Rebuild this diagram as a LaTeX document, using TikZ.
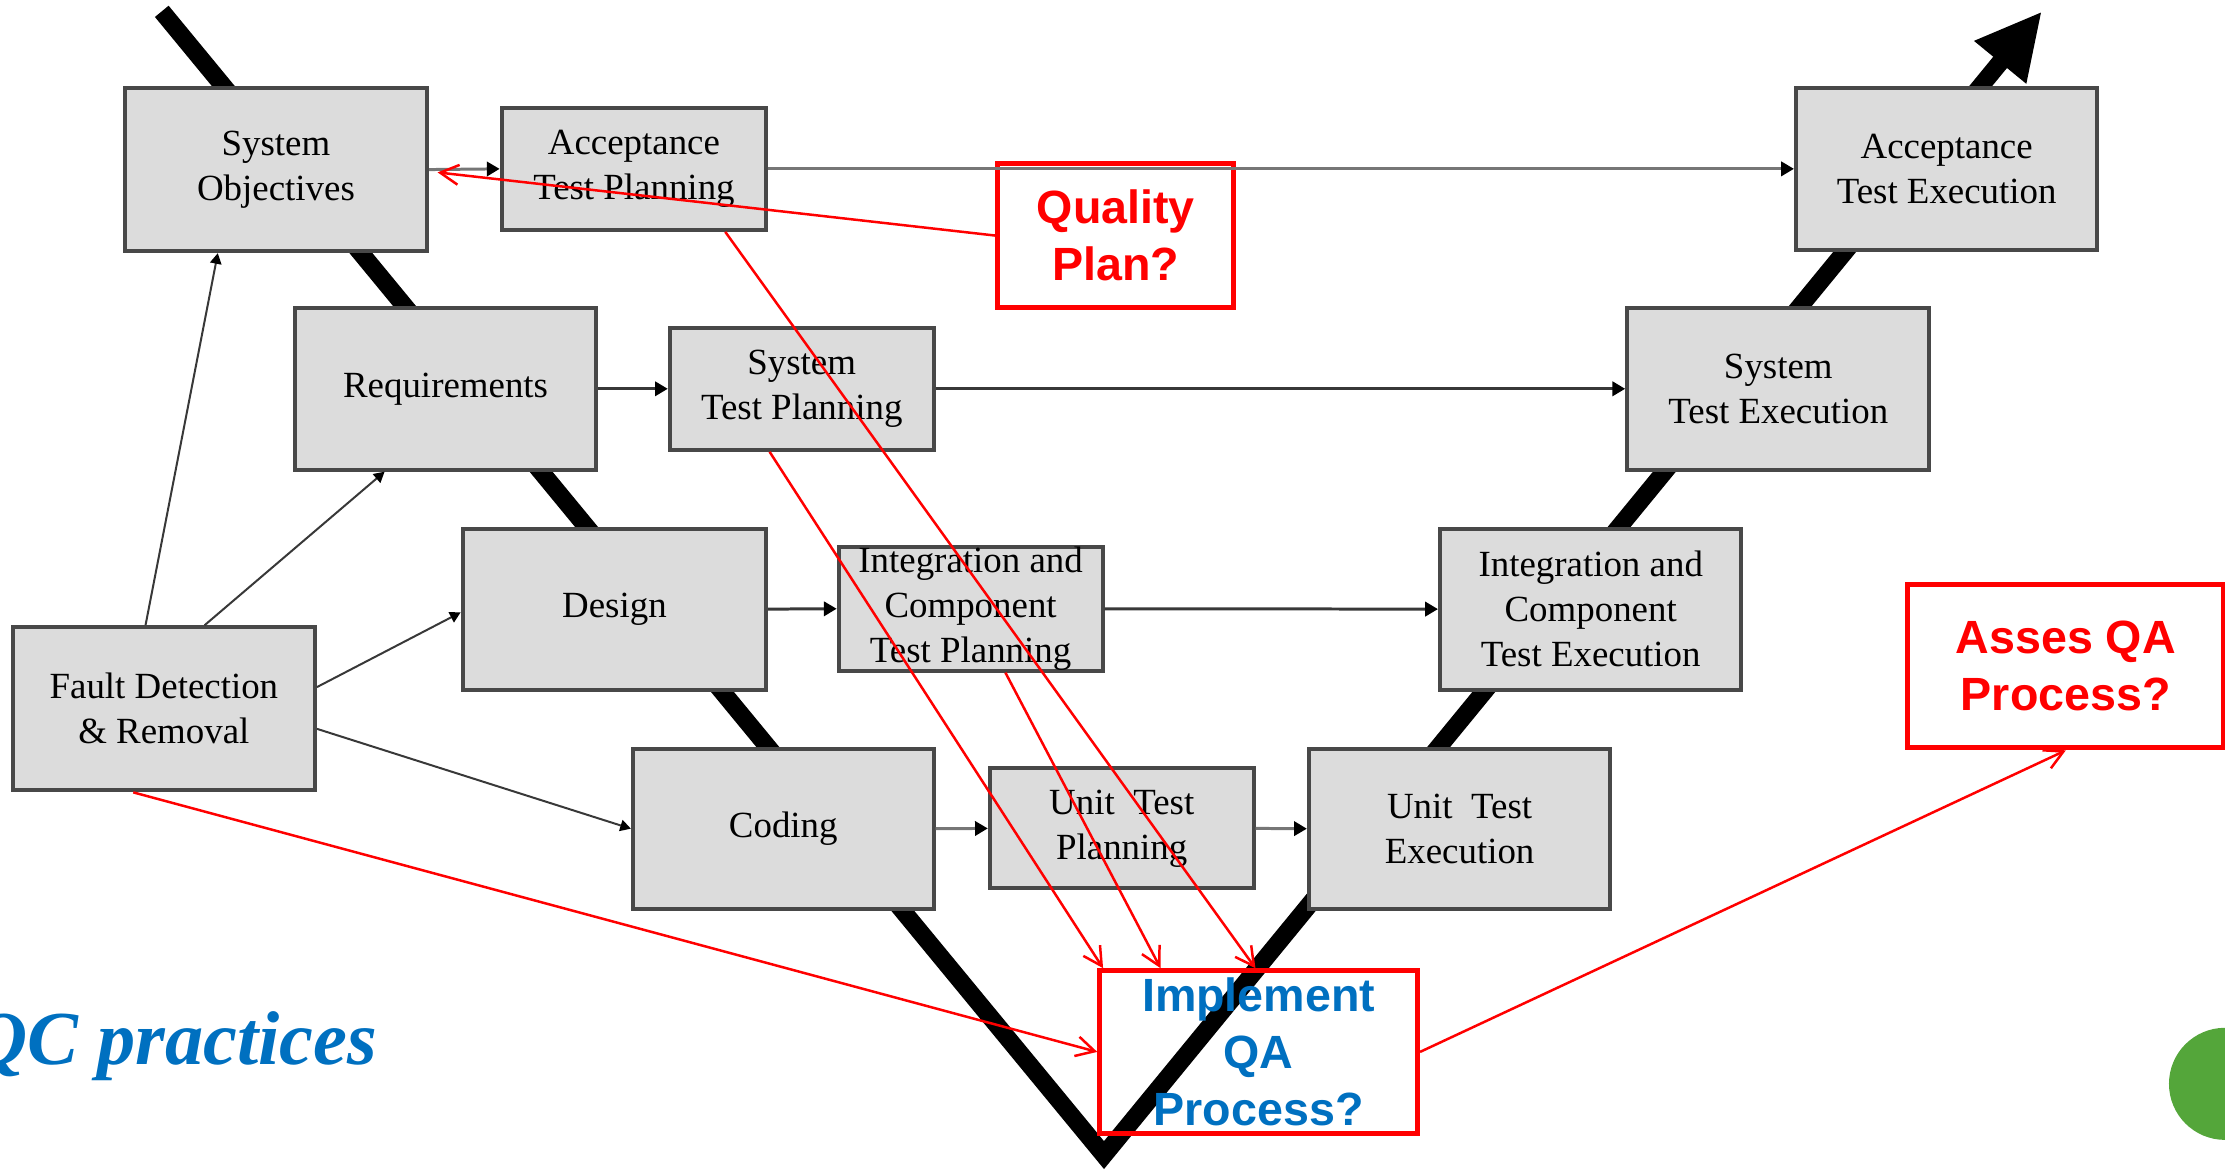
\documentclass[tikz,border=0pt]{standalone}
\usepackage{fontspec}
\setmainfont{Liberation Serif}
\newfontfamily\labelfont{Liberation Sans}
\usetikzlibrary{arrows.meta,calc}
\definecolor{boxfill}{RGB}{220,220,220}
\definecolor{boxline}{RGB}{72,72,72}
\definecolor{linkdark}{RGB}{56,56,56}
\definecolor{linkgray}{RGB}{118,118,118}
\definecolor{qred}{RGB}{255,0,0}
\definecolor{qblue}{RGB}{0,112,192}
\definecolor{dotgreen}{RGB}{84,166,58}

\begin{document}
\begin{tikzpicture}[x=0.02cm,y=-0.02cm,
  phase/.style={draw=boxline, line width=1.6pt, fill=boxfill, inner sep=0pt,
    align=center, font=\fontsize{14.8}{18.1}\selectfont},
  qbox/.style={draw=qred, line width=2pt, inner sep=0pt, align=center,
    font=\labelfont\bfseries\fontsize{18.7}{22.8}\selectfont},
  flow/.style={line width=1.2pt, -{Triangle[length=0.18cm,width=0.2cm,color=black]}},
  feed/.style={draw=linkdark, line width=0.8pt, -{Triangle[length=0.15cm,width=0.16cm,color=black]}},
  qa/.style={draw=qred, line width=1pt, -{Straight Barb[length=0.26cm,width=0.28cm]}},
  vee/.style={line width=0.25cm, line join=miter}
]
\useasboundingbox (0,0) rectangle (1568,827);
\clip (0,0) rectangle (1568,827);

% the V of the development life cycle, drawn under the phase boxes
\draw[vee, -{Triangle[length=0.93cm,width=0.88cm]}] (114,8) -- (778,814) -- (1439,8);

% phase boxes
\node[phase, minimum width=4.26cm, minimum height=2.30cm] (so) at (194.5,119.5) {System\\Objectives};
\node[phase, minimum width=3.73cm, minimum height=1.72cm] (atp) at (446.75,119) {Acceptance\\Test Planning};
\node[phase, minimum width=4.25cm, minimum height=2.28cm] (ate) at (1371.85,119) {Acceptance\\Test Execution};
\node[phase, minimum width=4.24cm, minimum height=2.28cm] (req) at (314,274) {Requirements};
\node[phase, minimum width=3.72cm, minimum height=1.72cm] (stp) at (565,274) {System\\Test Planning};
\node[phase, minimum width=4.26cm, minimum height=2.28cm] (ste) at (1253.2,274) {System\\Test Execution};
\node[phase, minimum width=4.28cm, minimum height=2.27cm] (des) at (433,429.25) {Design};
\node[phase, minimum width=3.72cm, minimum height=1.72cm] (ictp) at (684,429) {Integration and\\Component\\Test Planning};
\node[phase, minimum width=4.25cm, minimum height=2.27cm] (icte) at (1121,429.25) {Integration and\\Component\\Test Execution};
\node[phase, minimum width=4.24cm, minimum height=2.26cm] (cod) at (552,584) {Coding};
\node[phase, minimum width=3.72cm, minimum height=1.69cm] (utp) at (790.5,583.8) {Unit~~Test\\Planning};
\node[phase, minimum width=4.25cm, minimum height=2.26cm] (ute) at (1028.6,584) {Unit~~Test\\Execution};
\node[phase, minimum width=4.26cm, minimum height=2.30cm] (fdr) at (115.5,499.5) {Fault Detection\\\& Removal};

% question boxes
\node[qbox, text=qred, minimum width=3.33cm, minimum height=2.04cm] (qp) at (786.3,166) {Quality\\Plan?};
\node[qbox, text=qred, minimum width=4.45cm, minimum height=2.31cm] (asq) at (1455.8,469.3) {Asses QA\\Process?};
\node[qbox, text=qblue, minimum width=4.48cm, minimum height=2.29cm] (iqa) at (887,741.3) {Implement\\QA\\Process?};

% planning to execution links
\draw[flow, linkgray] (so.east) -- (atp.west);
\draw[flow, linkgray] (atp.east) -- (ate.west);
\draw[flow, linkdark] (req.east) -- (stp.west);
\draw[flow, linkdark] (stp.east) -- (ste.west);
\draw[flow, linkdark] (des.east) -- (ictp.west);
\draw[flow, linkdark] (ictp.east) -- (icte.west);
\draw[flow, linkgray] (cod.east) -- (utp.west);
\draw[flow, linkgray] (utp.east) -- (ute.west);

% fault detection feeds back into the early phases
\coordinate (f1) at ($(fdr.north west)!0.44!(fdr.north east)$);
\coordinate (f2) at ($(fdr.north west)!0.633!(fdr.north east)$);
\coordinate (f3) at ($(fdr.north east)!0.37!(fdr.south east)$);
\coordinate (f4) at ($(fdr.north east)!0.62!(fdr.south east)$);
\coordinate (soin) at ($(so.south west)!0.31!(so.south east)$);
\coordinate (reqin) at ($(req.south west)!0.3!(req.south east)$);
\coordinate (desin) at ($(des.north west)!0.52!(des.south west)$);
\draw[feed] (f1) -- (soin);
\draw[feed] (f2) -- (reqin);
\draw[feed] (f3) -- (desin);
\draw[feed] (f4) -- (cod.west);

% quality assurance links
\coordinate (qpend) at ($(so.east)+(6,2)$);
\coordinate (atpout) at ($(atp.south west)!0.84!(atp.south east)$);
\coordinate (stpout) at ($(stp.south west)!0.38!(stp.south east)$);
\coordinate (ictpout) at ($(ictp.south west)!0.63!(ictp.south east)$);
\coordinate (fdrout) at ($(fdr.south west)!0.40!(fdr.south east)$);
\coordinate (iqa1) at ($(iqa.north west)!0.018!(iqa.north east)$);
\coordinate (iqa2) at ($(iqa.north west)!0.196!(iqa.north east)$);
\coordinate (iqa3) at ($(iqa.north west)!0.49!(iqa.north east)$);
\draw[qa] (qp.west) -- (qpend);
\draw[qa] (atpout) -- (iqa3);
\draw[qa] (stpout) -- (iqa1);
\draw[qa] (ictpout) -- (iqa2);
\draw[qa] (fdrout) -- (iqa.west);
\draw[qa] (iqa.east) -- (asq.south);

% caption and corner mark
\node[anchor=base east, inner sep=0pt, text=qblue,
  font=\bfseries\itshape\fontsize{30.6}{36}\selectfont] (qc) at (266,750.5) {QC practices};
\fill[dotgreen] (1568,763.8) circle (39.5);
\end{tikzpicture}
\end{document}
